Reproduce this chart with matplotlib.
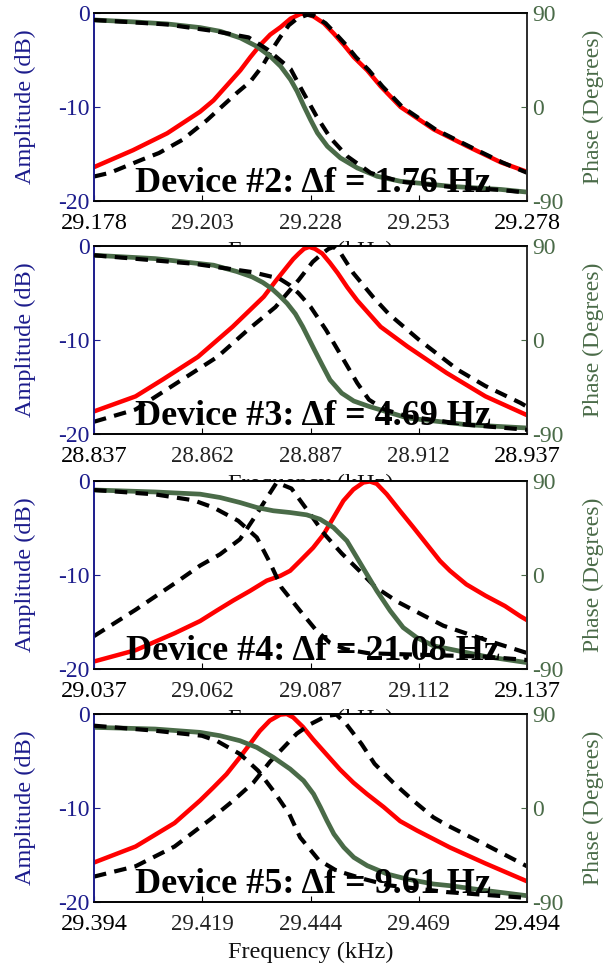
import numpy as np
import matplotlib
matplotlib.use('Agg')
import matplotlib.pyplot as plt

plt.rcParams['font.family'] = ['Liberation Serif', 'DejaVu Serif']
plt.rcParams['axes.unicode_minus'] = False

# start frequency of each panel (kHz); x data below are offsets in Hz
starts = [29.178, 28.837, 29.037, 29.394]
devices = ['Device #2: \u0394f = 1.76 Hz', 'Device #3: \u0394f = 4.69 Hz',
           'Device #4: \u0394f = 21.08 Hz', 'Device #5: \u0394f = 9.61 Hz']

# Device 2
d2_amp_f = [0, 9, 16.9, 24.5, 27.6, 30.7, 33.8, 36.1, 38.4, 40.7, 43.1, 45.4, 47.7, 49.2, 50.8, 53.1, 55.4, 57.7, 60.0, 63.1, 66.2, 68.5, 70.8, 78.5, 86.3, 94, 100]
d2_amp = [-16.4, -14.6, -12.8, -10.5, -9.3, -7.7, -6.1, -4.7, -3.4, -2.3, -1.5, -0.6, -0.1, -0.1, -0.4, -1.1, -2.2, -3.4, -4.7, -6.1, -7.8, -8.9, -10.0, -12.4, -14.2, -15.9, -16.9]
d2_ref_f = [0, 3.7, 11.1, 15, 20.4, 26.1, 29.9, 33.0, 36.1, 38.8, 41.1, 43.1, 45.0, 46.9, 49.2, 50.8, 53.5, 55.8, 58.2, 60.5, 63.5, 66.6, 71.2, 78.9, 86.7, 94.3, 100]
d2_ref = [-17.4, -17.0, -15.6, -14.9, -13.5, -11.4, -9.8, -8.5, -7.3, -5.7, -3.9, -2.5, -1.3, -0.6, -0.2, -0.3, -1.1, -2.2, -3.4, -4.7, -6.1, -7.8, -10.0, -12.4, -14.2, -15.9, -17.0]
d2_ph_f = [0, 9, 16.9, 24.5, 29.2, 33.8, 37.6, 40.7, 43.1, 45.4, 46.9, 48.5, 50.0, 51.6, 53.9, 56.9, 60.8, 65.4, 70.8, 82.4, 94, 100]
d2_ph = [83.3, 81.5, 79.5, 76, 72.4, 66.1, 58.0, 48.5, 38.9, 26.1, 15.0, 0.6, -12.2, -24.9, -37.7, -48.8, -58.4, -66.4, -71.2, -76, -79, -81.5]
d2_rph_f = [0, 16.9, 28, 35.7, 40.1, 45.4, 48.3, 51.4, 54.6, 58.5, 63.9, 70.8, 82.4, 94, 100]
d2_rph = [83.3, 79, 72.5, 66.6, 54.9, 36.4, 14.0, -9.0, -29.7, -47.3, -63.2, -71.5, -76.5, -79.5, -82]

# Device 3
d3_amp_f = [0, 9.6, 15.9, 24, 32, 39.2, 42, 44.6, 46, 47.3, 48.5, 49.7, 51, 52.7, 54.5, 56.3, 58.5, 60.8, 66.2, 72.4, 81.4, 90.4, 100]
d3_amp = [-17.6, -16.0, -14.2, -11.8, -8.6, -5.4, -3.7, -2.2, -1.4, -0.8, -0.3, -0.1, -0.3, -0.8, -1.8, -2.9, -4.4, -5.8, -8.6, -10.7, -13.5, -16.0, -18.0]
d3_ref_f = [0, 9.6, 20.4, 28.5, 35.6, 41.9, 47.3, 50.5, 52.7, 54.2, 55.4, 57, 59.9, 64.4, 68, 75.1, 84.1, 90.4, 98.5, 100]
d3_ref = [-18.7, -17.4, -14.2, -11.8, -8.9, -6.5, -3.6, -1.7, -0.8, -0.3, -0.1, -0.8, -2.9, -5.4, -7.2, -10.0, -13.2, -14.9, -16.7, -17.1]
d3_ph_f = [0, 14.1, 27.6, 33, 36.5, 39, 41, 42.8, 44.6, 46.5, 48.2, 50.9, 52.7, 54.5, 57.2, 60, 63.5, 72.4, 86, 100]
d3_ph = [81.1, 77.9, 71.6, 65.5, 60.4, 55, 49.3, 42.5, 35, 25, 12.7, -9.5, -24, -38.2, -50.9, -58.5, -63.6, -74.7, -81.1, -84.3]
d3_rph_f = [0, 23, 36.5, 42.8, 45.2, 47.3, 50, 53.6, 57.2, 60.8, 63.5, 67, 72.4, 86, 100]
d3_rph = [81.1, 73, 65, 58.8, 52.5, 44.5, 31.8, 9.5, -15.9, -41.3, -57.2, -66.5, -73.1, -81.1, -86]

# Device 4
d4_amp_f = [0, 9.6, 18.6, 24.5, 28.3, 32.2, 36.0, 39.9, 43.0, 45.3, 47.6, 50.6, 53.0, 55.3, 57.6, 59.9, 62.2, 63.7, 65.3, 67.6, 70.7, 73.7, 76.8, 79.9, 82.2, 86, 90.4, 94.9, 98.5, 100]
d4_amp = [-19.2, -18.0, -16.2, -14.9, -13.8, -12.7, -11.7, -10.6, -10.1, -9.55, -8.5, -7.1, -5.7, -3.9, -2.1, -0.9, -0.16, -0.05, -0.3, -1.4, -3.2, -4.9, -6.7, -8.5, -9.55, -11.0, -12.2, -13.3, -14.4, -14.8]
d4_ref_f = [0, 9.6, 18.6, 24.5, 29.1, 33.7, 37.6, 39.9, 42.2, 45.6, 49.9, 53.3, 57.2, 61.4, 65, 70.3, 76.1, 80.7, 90.4, 100]
d4_ref = [-16.5, -13.7, -10.9, -9.0, -7.8, -6.2, -3.5, -1.8, -0.16, -0.8, -3.5, -5.7, -7.7, -9.6, -11.3, -12.9, -14.3, -15.4, -16.9, -18.3]
d4_ph_f = [0, 14.1, 24.5, 29.1, 33.7, 37.6, 41.4, 45.3, 49.1, 52.2, 55.3, 58.4, 60.7, 63.0, 65.3, 68.4, 71.4, 74.5, 78.4, 82.2, 90.4, 100]
d4_ph = [81.4, 79.5, 77.4, 74.2, 69.4, 64.6, 61.5, 59.8, 57.6, 53.4, 45.5, 32.7, 16.8, 0.8, -15.1, -34.3, -50.3, -59.8, -67.8, -71.0, -78, -83.9]
d4_rph_f = [0, 14.1, 23, 27.6, 33.3, 37.6, 40.6, 43.3, 47.6, 51.4, 54.5, 58, 63.5, 77.2, 90.4, 100]
d4_rph = [81.4, 77.2, 71.5, 64.6, 51.9, 35.9, 12.0, -12.0, -34.3, -53.4, -65, -71, -75, -76.6, -78.2, -81.4]

# Device 5
d5_amp_f = [0, 9.6, 18.6, 24.5, 27.6, 30.6, 33.7, 36.0, 38.3, 40.6, 43.0, 44.5, 46.0, 48.3, 50.6, 53.7, 56.8, 59.9, 63.0, 66.9, 70.7, 74.6, 78.4, 82.2, 90.4, 100]
d5_amp = [-15.8, -14.1, -11.6, -9.2, -7.8, -6.4, -4.6, -3.2, -1.8, -0.7, -0.07, 0, -0.36, -1.4, -2.7, -4.3, -5.9, -7.3, -8.5, -9.9, -11.4, -12.4, -13.3, -14.2, -15.9, -17.8]
d5_ref_f = [0, 9.6, 18.6, 26.9, 32.2, 36.8, 40.6, 43.7, 46.8, 49.9, 53.7, 56.0, 58.3, 61.8, 64.8, 69.1, 73.7, 78.4, 81.4, 90.4, 100]
d5_ref = [-17.3, -16.2, -14.1, -11.2, -9.2, -7.3, -5.1, -3.6, -2.1, -1.1, -0.2, -0.07, -1.1, -3.2, -5.3, -7.3, -9.2, -11.0, -11.8, -13.9, -16.2]
d5_ph_f = [0, 14.1, 24.5, 29.1, 33.7, 37.6, 41.4, 45.3, 48.4, 50.7, 52.3, 53.8, 55.4, 57.7, 60.0, 63.1, 67.7, 72.2, 78.4, 82.2, 90.4, 100]
d5_ph = [77.2, 75.6, 72.4, 69.2, 64.4, 58.0, 48.5, 37.3, 26.1, 13.4, 0.6, -12.2, -24.9, -37.7, -47.3, -55.2, -63.2, -68.0, -72.8, -74.4, -79, -84]
d5_rph_f = [0, 14.1, 24.9, 28.3, 33.7, 37.9, 41.4, 45.1, 47.6, 51.9, 56, 62.3, 68, 81.4, 100]
d5_rph = [78.8, 74, 69.2, 64.4, 51.7, 35.7, 16.6, -5.7, -28.1, -49.8, -60, -68.0, -74.0, -80.5, -86.1]

panels = [
    (d2_amp_f, d2_amp, d2_ref_f, d2_ref, d2_ph_f, d2_ph, d2_rph_f, d2_rph),
    (d3_amp_f, d3_amp, d3_ref_f, d3_ref, d3_ph_f, d3_ph, d3_rph_f, d3_rph),
    (d4_amp_f, d4_amp, d4_ref_f, d4_ref, d4_ph_f, d4_ph, d4_rph_f, d4_rph),
    (d5_amp_f, d5_amp, d5_ref_f, d5_ref, d5_ph_f, d5_ph, d5_rph_f, d5_rph),
]

navy = '#1c1c8c'
green = '#4a6b48'
red = '#ff0000'

fig = plt.figure(figsize=(6.07, 9.68), dpi=100)
bottoms = [0.7924, 0.5517, 0.3089, 0.0682]

for i, (f0, label, data) in enumerate(zip(starts, devices, panels)):
    af, a, rf, r, pf, p, qf, q = data
    ax = fig.add_axes([0.1549, bottoms[i], 0.7133, 0.1942])
    ax2 = ax.twinx()

    k = lambda v: f0 + np.array(v) / 1000.0
    ax.plot(k(af), a, color=red, lw=3.2, zorder=2)
    ax2.plot(k(pf), p, color=green, lw=3.4, zorder=2)
    ax.plot(k(rf), r, color='black', lw=3.0, ls=(0, (3, 2)), zorder=3)
    ax2.plot(k(qf), q, color='black', lw=3.0, ls=(0, (3, 2)), zorder=3)

    ax.set_xlim(f0, f0 + 0.1)
    ax.set_ylim(-20, 0)
    ax2.set_ylim(-90, 90)
    ticks = [f0 + 0.025 * j for j in range(5)]
    ax.set_xticks(ticks)
    ax.set_xticklabels(['%.3f' % t for t in ticks])
    for j, tl in enumerate(ax.get_xticklabels()):
        if j in (0, 4):
            tl.set_fontsize(17.5)
            tl.set_color('black')
        else:
            tl.set_fontsize(16.5)
            tl.set_color('#222222')
    ax.set_yticks([-20, -10, 0])
    ax2.set_yticks([-90, 0, 90])

    ax.tick_params(axis='x', direction='in', length=4, pad=8.5)
    ax.tick_params(axis='y', direction='in', length=4, pad=3, colors=navy, labelsize=17)
    ax2.tick_params(axis='y', direction='in', length=4, pad=3.5, colors=green, labelsize=17)

    ax.spines['left'].set_color(navy)
    ax2.spines['left'].set_color(navy)
    ax2.spines['right'].set_color('#333333')
    for a_ in (ax, ax2):
        for s in a_.spines.values():
            s.set_linewidth(1.2)

    ax.set_ylabel('Amplitude (dB)', color=navy, fontsize=17.5)
    ax.yaxis.set_label_coords(-0.135, 0.5)
    ax2.set_ylabel('Phase (Degrees)', color=green, fontsize=17)
    ax2.yaxis.set_label_coords(1.13, 0.5)
    ax.set_xlabel('Frequency (kHz)', fontsize=17.5, color='#111111', labelpad=5)

    ax2.text(0.505, 0.05, label, transform=ax.transAxes, ha='center', va='baseline',
             fontsize=26, fontweight='bold', color='black', zorder=10)

fig.savefig('out.png', dpi=100)
